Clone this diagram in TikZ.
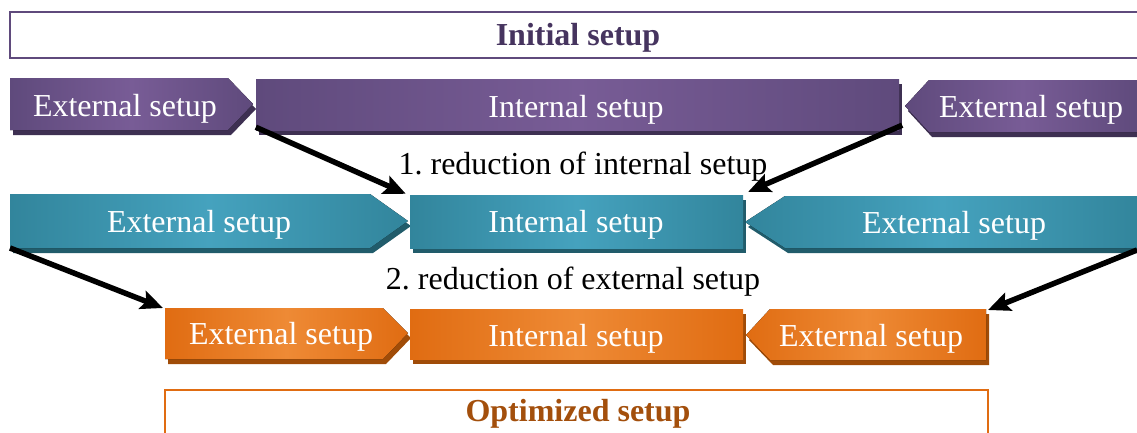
\documentclass[tikz,border=0pt]{standalone}
\usepackage{fontspec}
\setmainfont{Liberation Serif}
\usetikzlibrary{arrows.meta}
\frenchspacing
\definecolor{pur}{HTML}{5F4A7C}
\definecolor{purL}{HTML}{785C96}
\definecolor{purD}{HTML}{3E3052}
\definecolor{tea}{HTML}{32859C}
\definecolor{teaL}{HTML}{45A2BE}
\definecolor{teaD}{HTML}{215C6B}
\definecolor{ora}{HTML}{E06C12}
\definecolor{oraL}{HTML}{EE8A35}
\definecolor{oraD}{HTML}{A04C08}
\definecolor{purT}{HTML}{46345F}
\definecolor{oraT}{HTML}{A34F0C}
\tikzset{
  boxtext/.style={text=white, font=\fontsize{32}{36}\selectfont, inner sep=0pt, anchor=base},
  lbl/.style={text=black, font=\fontsize{32}{36}\selectfont, inner sep=0pt, anchor=base},
  ttl/.style={font=\bfseries\fontsize{32}{36}\selectfont, inner sep=0pt, anchor=base},
  pshade/.style={left color=pur, right color=pur, middle color=purL},
  tshade/.style={left color=tea, right color=tea, middle color=teaL},
  oshade/.style={left color=ora, right color=ora, middle color=oraL},
  intbox/.style={rectangle, inner sep=0pt},
  arr/.style={line width=5.5pt, -{Stealth[length=22pt,width=19pt,inset=4pt]}},
}
\begin{document}
\begin{tikzpicture}[x=1pt,y=-1pt]
\useasboundingbox (0,0) rectangle (1137,432);
\fill[white] (0,0) rectangle (1137,432);

% title boxes
\draw[pur, line width=2pt] (10,12) rectangle (1150,58);
\node[ttl, text=purT] (init) at (578,45) {Initial setup};
\draw[ora, line width=2pt] (165,390) rectangle (988,445);
\node[ttl, text=oraT] (opt) at (578,421) {Optimized setup};

% ---- row 1 purple
\fill[purD] (13,83) -- (231,83) -- (256,109) -- (231,135) -- (13,135) -- cycle;
\fill[pshade] (10,78) -- (228,78) -- (253,104) -- (228,130) -- (10,130) -- cycle;
\node[boxtext] (pel) at (125,116) {External setup};
\fill[purD] (259,84) rectangle (902,135);
\node[intbox, pshade, minimum width=643pt, minimum height=51pt] (pint) at (577.5,104.5) {};
\node[boxtext] (pintt) at (576,117) {Internal setup};
\fill[purD] (908,111) -- (932,85) -- (1140,85) -- (1140,137) -- (932,137) -- cycle;
\fill[pshade] (905,106) -- (929,80) -- (1140,80) -- (1140,132) -- (929,132) -- cycle;
\node[boxtext] (per) at (1031,117) {External setup};

% ---- row 2 teal
\fill[teaD] (13,199) -- (373,199) -- (411,226) -- (373,253) -- (13,253) -- cycle;
\fill[tshade] (10,194) -- (370,194) -- (408,221) -- (370,248) -- (10,248) -- cycle;
\node[boxtext] (tel) at (199,232) {External setup};
\coordinate (telbl) at (10,248);
\fill[teaD] (413,200) rectangle (746,253);
\node[intbox, tshade, minimum width=333pt, minimum height=53pt] (tint) at (576.5,221.5) {};
\node[boxtext] (tintt) at (576,232) {Internal setup};
\fill[teaD] (748,227) -- (788,201) -- (1140,201) -- (1140,253) -- (788,253) -- cycle;
\fill[tshade] (745,222) -- (785,196) -- (1140,196) -- (1140,248) -- (785,248) -- cycle;
\node[boxtext] (ter) at (954,233) {External setup};
\coordinate (terbr) at (1137,250);

% ---- row 3 orange
\fill[oraD] (168,313) -- (386,313) -- (411,338) -- (386,364) -- (168,364) -- cycle;
\fill[oshade] (165,308) -- (383,308) -- (408,333) -- (383,359) -- (165,359) -- cycle;
\node[boxtext] (oel) at (281,344) {External setup};
\coordinate (oeltl) at (163,308);
\fill[oraD] (413,314) rectangle (746,364);
\node[intbox, oshade, minimum width=333pt, minimum height=50pt] (oint) at (576.5,334) {};
\node[boxtext] (ointt) at (576,346) {Internal setup};
\fill[oraD] (749,340) -- (773,314) -- (989,314) -- (989,365) -- (773,365) -- cycle;
\fill[oshade] (746,335) -- (770,309) -- (986,309) -- (986,360) -- (770,360) -- cycle;
\node[boxtext] (oer) at (871,346) {External setup};
\coordinate (oertr) at (988,310);

% labels
\node[lbl] (l1) at (583,174) {1. reduction of internal setup};
\node[lbl] (l2) at (573,289) {2. reduction of external setup};

% arrows
\draw[arr] ([yshift=3pt]pint.south west) -- ([shift={(-4pt,1pt)}]tint.north west);
\draw[arr] ([shift={(3pt,5pt)}]pint.south east) -- ([shift={(5pt,3pt)}]tint.north east);
\draw[arr] (telbl) -- (oeltl);
\draw[arr] (terbr) -- (oertr);
\end{tikzpicture}
\end{document}
